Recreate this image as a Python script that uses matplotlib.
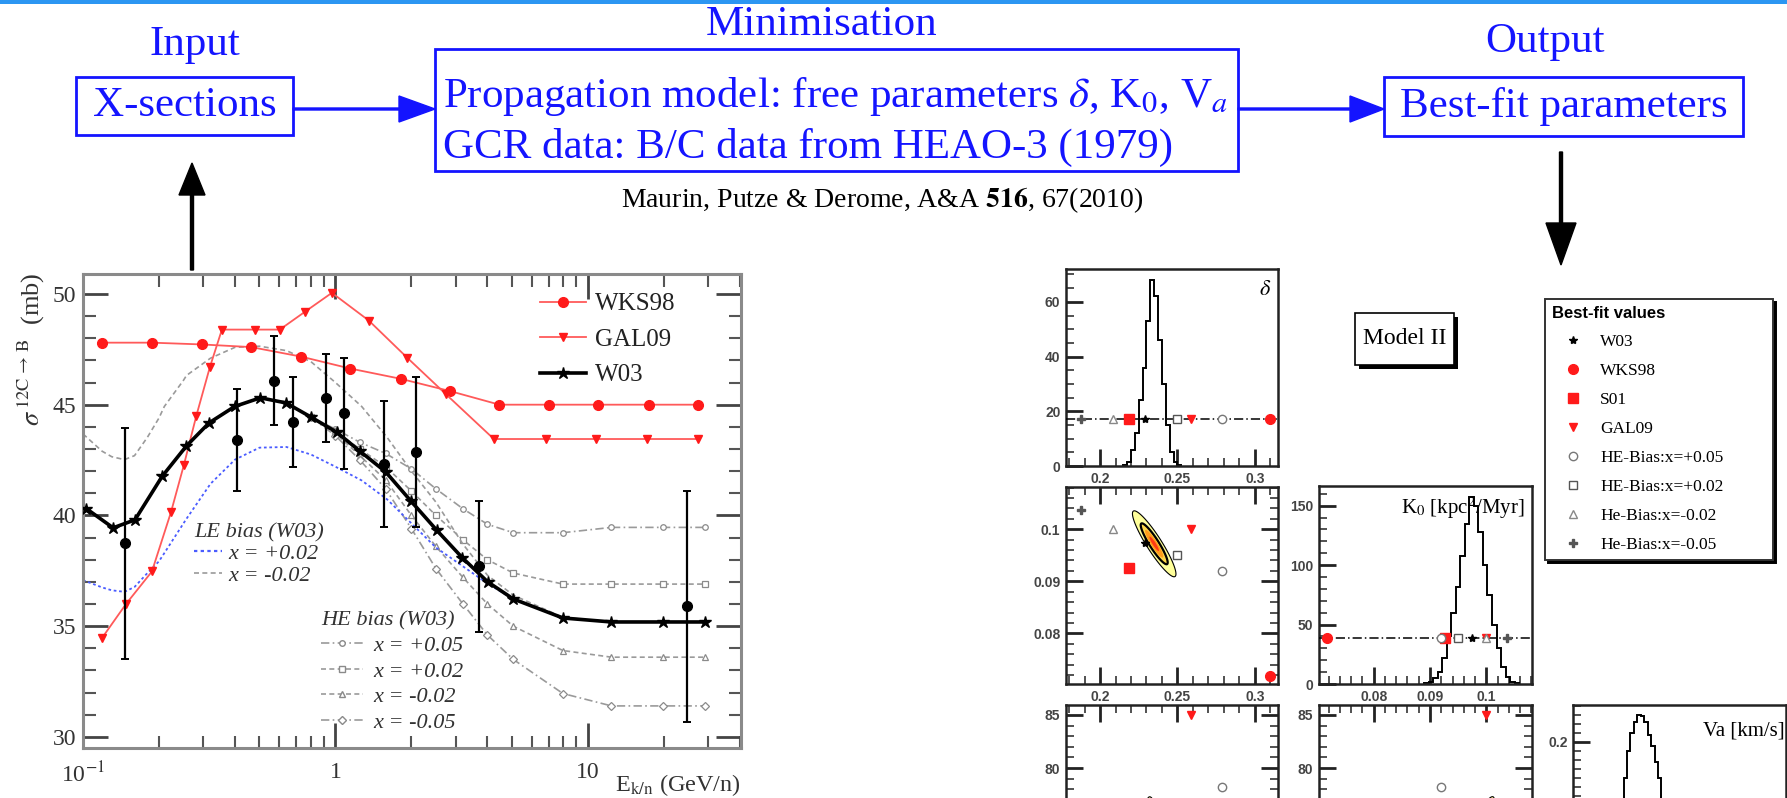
import numpy as np
import matplotlib
matplotlib.use("Agg")
import matplotlib.pyplot as plt
from matplotlib.patches import Rectangle, FancyArrow
from matplotlib.lines import Line2D
from matplotlib.ticker import (FixedLocator, FixedFormatter, MultipleLocator,
                               NullFormatter, FormatStrFormatter)

plt.rcParams['font.family'] = ['Liberation Serif', 'DejaVu Serif']
plt.rcParams['mathtext.fontset'] = 'stix'

# ---------------- cross-section data (sigma 12C -> B, mb) ----------------
wks_e = [0.119, 0.1875, 0.295, 0.464, 0.731, 1.146, 1.81, 2.83, 4.46, 7.02, 11.0, 17.4, 27.4]
wks_sig = [47.8, 47.8, 47.72, 47.6, 47.17, 46.63, 46.17, 45.62, 45.0, 45.0, 45.0, 45.0, 45.0]

gal_e = [0.119, 0.148, 0.1875, 0.223, 0.251, 0.281, 0.318, 0.355, 0.481, 0.602, 0.756,
         0.968, 1.355, 1.92, 2.74, 4.24, 6.8, 10.8, 17.2, 27.4]
gal_sig = [34.47, 36.0, 37.47, 40.14, 42.28, 44.49, 46.69, 48.39, 48.39, 48.39, 49.19,
           50.05, 48.8, 47.13, 45.47, 43.45, 43.45, 43.45, 43.45, 43.45]

w03_e = [0.103, 0.1316, 0.1606, 0.206, 0.257, 0.316, 0.399, 0.504, 0.637, 0.803, 1.01,
         1.25, 1.58, 1.99, 2.52, 3.18, 4.01, 5.06, 7.96, 12.4, 19.8, 29.1]
w03_sig = [40.31, 39.44, 39.80, 41.77, 43.14, 44.18, 44.92, 45.31, 45.08, 44.43, 43.76,
           42.9, 41.97, 40.65, 39.33, 38.09, 37.0, 36.23, 35.37, 35.19, 35.19, 35.19]

meas_e = [0.1466, 0.408, 0.571, 0.676, 0.916, 1.077, 1.56, 2.09, 3.69, 24.7]
meas_sig = [38.74, 43.42, 46.09, 44.22, 45.31, 44.61, 42.33, 42.86, 37.70, 35.89]
meas_err = [5.2, 2.3, 2.0, 2.05, 2.0, 2.5, 2.85, 3.4, 2.95, 5.2]

le_e = [0.1, 0.119, 0.13, 0.146, 0.16, 0.18, 0.2, 0.21, 0.25, 0.257, 0.32, 0.4, 0.5, 0.64,
        0.8, 1.0, 1.27, 1.6, 2.0, 2.5, 3.2, 4.0, 5.06, 7.96, 12.4, 19.8, 29.1]
le_plus02 = [37.08, 36.75, 36.62, 36.55, 36.77, 37.4, 37.93, 38.3, 39.64, 39.85, 41.43,
             42.52, 43.06, 43.09, 42.75, 42.2, 41.58, 40.73, 39.64, 38.55, 37.7, 36.93,
             36.23, 35.37, 35.19, 35.19, 35.19]
le_minus02 = [43.68, 42.9, 42.65, 42.52, 42.7, 43.53, 44.4, 44.92, 46.1, 46.32, 47.1,
              47.59, 47.64, 47.44, 46.94, 46.0, 44.92, 43.53, 42.0, 40.6, 38.7, 37.3,
              36.4, 35.4, 35.19, 35.19, 35.19]

he_e = [0.8, 1.0, 1.25, 1.58, 2.0, 2.5, 3.2, 4.0, 5.06, 7.96, 12.4, 19.8, 29.1]
he_plus05 = [44.43, 43.9, 43.3, 42.8, 42.1, 41.2, 40.3, 39.6, 39.22, 39.22, 39.46, 39.46, 39.46]
he_plus02 = [44.43, 43.8, 43.0, 42.2, 41.1, 40.0, 38.9, 38.0, 37.4, 36.9, 36.9, 36.9, 36.9]
he_minus02 = [44.43, 43.7, 42.7, 41.6, 40.0, 38.6, 37.2, 36.0, 35.0, 33.9, 33.6, 33.6, 33.6]
he_minus05 = [44.43, 43.6, 42.5, 41.2, 39.4, 37.6, 36.0, 34.6, 33.5, 31.96, 31.4, 31.4, 31.4]

# ---------------- best-fit propagation parameters ----------------
fit_names = ['W03', 'WKS98', 'S01', 'GAL09', 'HE-Bias:x=+0.05', 'HE-Bias:x=+0.02',
             'He-Bias:x=-0.02', 'He-Bias:x=-0.05']
fit_delta = [0.229, 0.310, 0.2186, 0.259, 0.279, 0.2495, 0.2082, 0.188]
fit_k0 = [0.0974, 0.0718, 0.0926, 0.100, 0.0919, 0.095, 0.100, 0.1037]
fit_va = [73.2, 70.0, 72.0, 85.0, 78.2, 74.0, 71.0, 70.5]

# posterior histograms
delta_edges = [0.2150, 0.2175, 0.2200, 0.2225, 0.2250, 0.2275, 0.2300, 0.2325, 0.2350,
               0.2375, 0.2400, 0.2425, 0.2450, 0.2475, 0.2500, 0.2525]
delta_counts = [0.5, 1.5, 6, 12, 24, 36, 53, 68, 62, 46, 30, 15, 5, 1.5, 0.5]

k0_edges = [0.0890, 0.0898, 0.0906, 0.0914, 0.0922, 0.0930, 0.0938, 0.0946, 0.0954,
            0.0962, 0.0970, 0.0978, 0.0986, 0.0994, 0.1002, 0.1010, 0.1018, 0.1026,
            0.1034, 0.1042, 0.1050, 0.1058]
k0_counts = [1, 2, 5, 10, 22, 40, 60, 82, 108, 135, 157, 150, 128, 100, 75, 50, 30, 14,
             6, 2, 1]

va_edges = [70.9, 71.2, 71.5, 71.8, 72.1, 72.4, 72.7, 73.0, 73.3, 73.6, 73.9, 74.2, 74.5,
            74.8, 75.1, 75.4, 75.7]
va_counts = [0.09, 0.115, 0.135, 0.16, 0.19, 0.21, 0.222, 0.23, 0.229, 0.222, 0.208,
             0.195, 0.178, 0.16, 0.135, 0.11]

# correlation contours: centre, major and minor half-axes (data units)
dk_centre, dk_major, dk_minor = (0.235, 0.0972), (-0.01345, 0.00628), (0.00409, 0.000775)
dv_centre, dv_major, dv_minor = (0.235, 73.2), (-0.003, 4.1), (0.00514, 0.08)
kv_centre, kv_major, kv_minor = (0.0975, 73.2), (0.0037, 4.1), (0.00127, -0.33)

# ---------------- styles ----------------
BLUE = '#1414ff'
RED = '#ff1a1a'
RED_LINE = '#ff5a5a'

fit_style = [
    dict(marker='*', color='black', ms=6),
    dict(marker='o', color=RED, ms=7),
    dict(marker='s', color=RED, ms=6.5),
    dict(marker='v', color=RED, ms=6),
    dict(marker='o', color='#777777', mfc='white', ms=6, mew=1.0),
    dict(marker='s', color='#555555', mfc='white', ms=6, mew=1.0),
    dict(marker='^', color='#888888', mfc='white', ms=6, mew=1.0),
    dict(marker='P', color='#555555', ms=6),
]

W, H = 1787, 798
fig = plt.figure(figsize=(W / 100, H / 100), dpi=100)


def px_axes(x0, y0, x1, y1, **kw):
    return fig.add_axes([x0 / W, 1 - y1 / H, (x1 - x0) / W, (y1 - y0) / H], **kw)


# ---------------- flow chart layer (pixel coordinates) ----------------
bg = fig.add_axes([0, 0, 1, 1], zorder=0)
bg.set_xlim(0, W)
bg.set_ylim(H, 0)
bg.axis('off')

bg.add_patch(Rectangle((0, 0), W, 4, color='#2c96f2', lw=0))

big = 31
bg.text(195, 45, 'Input', color=BLUE, fontsize=big, ha='center', va='center')
bg.text(822, 25, 'Minimisation', color=BLUE, fontsize=big, ha='center', va='center')
bg.text(1545, 42, 'Output', color=BLUE, fontsize=big, ha='center', va='center')

for (x0, y0, x1, y1) in [(76, 77, 293, 135), (435, 49, 1238, 171), (1384, 77, 1743, 136)]:
    bg.add_patch(Rectangle((x0, y0), x1 - x0, y1 - y0, fill=False, ec=BLUE, lw=2))

bg.text(184.5, 106, 'X-sections', color=BLUE, fontsize=big, ha='center', va='center')
bg.text(443, 97, r'Propagation model: free parameters $\delta$, K$_0$, V$_a$', color=BLUE,
        fontsize=big, ha='left', va='center')
bg.text(443, 147, 'GCR data: B/C data from HEAO-3 (1979)', color=BLUE, fontsize=big,
        ha='left', va='center')
bg.text(1563.5, 106, 'Best-fit parameters', color=BLUE, fontsize=big, ha='center', va='center')
bg.text(882, 200, r'Maurin, Putze & Derome, A&A $\mathbf{516}$, 67(2010)', color='black',
        fontsize=20, ha='center', va='center')

bg.add_patch(FancyArrow(293, 109, 142, 0, width=2, head_width=26, head_length=36,
                        length_includes_head=True, color=BLUE))
bg.add_patch(FancyArrow(1238, 109, 146, 0, width=2, head_width=26, head_length=34,
                        length_includes_head=True, color=BLUE))
bg.add_patch(FancyArrow(192, 270, 0, -107, width=3, head_width=26, head_length=32,
                        length_includes_head=True, color='black'))
bg.add_patch(FancyArrow(1561, 152, 0, 113, width=3, head_width=30, head_length=42,
                        length_includes_head=True, color='black'))

# Model II tag
bg.add_patch(Rectangle((1359, 317), 99, 52, color='black', lw=0))
bg.add_patch(Rectangle((1355, 313), 99, 52, fc='white', ec='black', lw=1.2))
bg.text(1404.5, 339, 'Model II', fontsize=17, ha='center', va='center')

# ---------------- cross-section panel ----------------
ax = px_axes(83, 274, 741, 748)
ax.set_xscale('log')
ax.set_xlim(0.1, 40.4)
ax.set_ylim(29.5, 50.9)
for s in ax.spines.values():
    s.set_color('#8a8a8a')
    s.set_linewidth(2.2)

ax.xaxis.set_major_locator(FixedLocator([0.1, 1, 10]))
ax.xaxis.set_major_formatter(FixedFormatter(['10$^{-1}$', '1', '10']))
ax.xaxis.set_minor_locator(FixedLocator([m * 10.0 ** k for k in (-1, 0, 1) for m in range(2, 10)]))
ax.xaxis.set_minor_formatter(NullFormatter())
ax.yaxis.set_major_locator(MultipleLocator(5))
ax.yaxis.set_minor_locator(MultipleLocator(1))
ax.tick_params(which='major', direction='in', length=18, width=2, color='#444444',
               top=True, right=True, labelsize=17, labelcolor='#333333', pad=5)
ax.tick_params(which='minor', direction='in', length=9, width=1.5, color='#555555',
               top=True, right=True)
ax.tick_params(axis='x', which='major', pad=10)

for curve, style in [(he_plus05, dict(marker='o', ls=(0, (5, 2, 1, 2)))),
                     (he_plus02, dict(marker='s', ls=(0, (3, 2)))),
                     (he_minus02, dict(marker='^', ls=(0, (3, 2)))),
                     (he_minus05, dict(marker='D', ls=(0, (5, 2, 1, 2))))]:
    ax.plot(he_e, curve, color='#9a9a9a', lw=1.2, ms=4, mfc='white', mec='#8a8a8a',
            mew=0.9, zorder=2, **style)

ax.plot(le_e, le_plus02, color='#4a5cff', lw=1.3, ls=(0, (1.5, 1.5)), zorder=2)
ax.plot(le_e, le_minus02, color='#9a9a9a', lw=1.2, ls=(0, (3, 2)), zorder=2)

ax.plot(w03_e, w03_sig, color='black', lw=2.6, marker='*', ms=9, zorder=4)
ax.plot(wks_e, wks_sig, color=RED_LINE, lw=1.3, marker='o', ms=7, mfc=RED, mec=RED, zorder=3)
ax.plot(gal_e, gal_sig, color=RED_LINE, lw=1.3, marker='v', ms=6, mfc=RED, mec=RED, zorder=3)
ax.errorbar(meas_e, meas_sig, yerr=meas_err, fmt='o', color='black', ms=7, elinewidth=1.6,
            capsize=3, capthick=1.4, zorder=5)

ax.text(-0.079, 1.004,
        r'$\sigma^{\,\mathrm{12C}\,\rightarrow\,\mathrm{B}}$  (mb)',
        transform=ax.transAxes, rotation=90, ha='center', va='top', fontsize=19,
        color='#333333')
ax.text(1.0, -0.078, r'E$_{\mathrm{k/n}}$ (GeV/n)', transform=ax.transAxes, ha='right',
        va='center', fontsize=17.5, color='#333333')

h_wks = Line2D([], [], color=RED_LINE, lw=1.3, marker='o', ms=7, mfc=RED, mec=RED)
h_gal = Line2D([], [], color=RED_LINE, lw=1.3, marker='v', ms=6, mfc=RED, mec=RED)
h_w03 = Line2D([], [], color='black', lw=2.6, marker='*', ms=9)
leg1 = ax.legend([h_wks, h_gal, h_w03], ['WKS98', 'GAL09', 'W03'], loc='upper left',
                 bbox_to_anchor=(0.6945, 0.960), frameon=False, fontsize=18,
                 handlelength=1.84, handletextpad=0.36, labelspacing=0.52, borderpad=0,
                 borderaxespad=0)
for t in leg1.get_texts():
    t.set_color('#222222')
ax.add_artist(leg1)

ital = dict(style='italic', size=16)
h_le1 = Line2D([], [], color='#4a5cff', lw=1.6, ls=(0, (1.5, 1.5)))
h_le2 = Line2D([], [], color='#9a9a9a', lw=1.2, ls=(0, (3, 2)))
leg2 = ax.legend([h_le1, h_le2], ['x = +0.02', 'x = -0.02'], loc='upper left',
                 bbox_to_anchor=(0.169, 0.474), frameon=False, prop=ital,
                 title='LE bias (W03)', title_fontproperties=ital, alignment='left',
                 handlelength=1.26, handletextpad=0.27, labelspacing=0.05, borderpad=0,
                 borderaxespad=0)
for t in leg2.get_texts() + [leg2.get_title()]:
    t.set_color('#333333')
ax.add_artist(leg2)

h_he = [Line2D([], [], color='#9a9a9a', lw=1.2, marker=m, ms=4, mfc='white', mec='#8a8a8a',
               ls=ls)
        for m, ls in [('o', (0, (5, 2, 1, 2))), ('s', (0, (3, 2))), ('^', (0, (3, 2))),
                      ('D', (0, (5, 2, 1, 2)))]]
leg3 = ax.legend(h_he, ['x = +0.05', 'x = +0.02', 'x = -0.02', 'x = -0.05'], loc='upper left',
                 bbox_to_anchor=(0.362, 0.289), frameon=False, prop=ital,
                 title='HE bias (W03)', title_fontproperties=ital, alignment='left',
                 handlelength=1.9, handletextpad=0.45, labelspacing=0.23, borderpad=0,
                 borderaxespad=0)
for t in leg3.get_texts() + [leg3.get_title()]:
    t.set_color('#333333')

# ---------------- parameter posterior panels ----------------
D_LIM = (0.178, 0.315)
K_LIM = (0.0703, 0.1081)
V_LIM = (67.4, 85.94)


def root_axes(box, xlim, ylim, xmaj, xmin, ymaj, ymin, mirror, xlabels=True):
    a = px_axes(*box)
    a.set_xlim(*xlim)
    a.set_ylim(*ylim)
    for s in a.spines.values():
        s.set_linewidth(1.8)
        s.set_color('#222222')
    a.xaxis.set_major_locator(MultipleLocator(xmaj))
    a.xaxis.set_minor_locator(MultipleLocator(xmin))
    a.yaxis.set_major_locator(ymaj if not isinstance(ymaj, (int, float)) else MultipleLocator(ymaj))
    a.yaxis.set_minor_locator(MultipleLocator(ymin))
    a.xaxis.set_major_formatter(FormatStrFormatter('%g'))
    a.yaxis.set_major_formatter(FormatStrFormatter('%g'))
    a.tick_params(which='major', direction='in', length=12, width=2, color='#222222',
                  top=mirror, right=mirror, labelsize=10, labelcolor='#444444', pad=4,
                  labelbottom=xlabels)
    a.tick_params(which='minor', direction='in', length=6, width=1.2, color='#333333',
                  top=mirror, right=mirror)
    for lbl in a.get_xticklabels() + a.get_yticklabels():
        lbl.set_fontfamily('Liberation Sans')
        lbl.set_fontweight('bold')
    return a


def draw_contours(a, centre, major, minor):
    t = np.linspace(0, 2 * np.pi, 200)
    for scale, fc, ec, lw in [(1.0, '#ffff9a', 'black', 0.8), (0.62, '#ffd84a', 'black', 1.6),
                              (0.42, '#ff9c1c', 'none', 0), (0.22, '#ff3a14', 'none', 0)]:
        xs = centre[0] + scale * (np.cos(t) * major[0] + np.sin(t) * minor[0])
        ys = centre[1] + scale * (np.cos(t) * major[1] + np.sin(t) * minor[1])
        a.fill(xs, ys, fc=fc, ec=ec, lw=lw, zorder=2)


def draw_fits(a, xs, ys):
    for x, y, st in zip(xs, ys, fit_style):
        a.plot([x], [y], ls='none', zorder=4, clip_on=True, **st)


row_line = dict(color='black', lw=1.1, ls=(0, (6, 2, 1, 2)), zorder=3)

# delta posterior
a_d = root_axes((1066, 269, 1278, 466), D_LIM, (0, 72), 0.05, 0.01, 20, 5, False)
a_d.stairs(delta_counts, delta_edges, color='black', lw=1.4, zorder=2)
a_d.axhline(17, **row_line)
draw_fits(a_d, fit_delta, [17] * len(fit_delta))
a_d.text(0.94, 0.89, r'$\delta$', transform=a_d.transAxes, ha='center', va='center',
         fontsize=16)

# delta vs K0
a_dk = root_axes((1066, 487, 1278, 684), D_LIM, K_LIM, 0.05, 0.01, 0.01, 0.002, True)
draw_contours(a_dk, dk_centre, dk_major, dk_minor)
draw_fits(a_dk, fit_delta, fit_k0)

# K0 posterior
a_k = root_axes((1319, 486, 1532, 684), K_LIM, (0, 166.6), 0.01, 0.002, 50, 10, False)
a_k.stairs(k0_counts, k0_edges, color='black', lw=1.4, zorder=2)
a_k.axhline(39, **row_line)
draw_fits(a_k, fit_k0, [39] * len(fit_k0))
a_k.text(0.967, 0.89, r'K$_0$ [kpc$^2$/Myr]', transform=a_k.transAxes, ha='right',
         va='center', fontsize=15)

# delta vs Va (lower part lies below the page edge)
a_dv = root_axes((1066, 705, 1278, 902), D_LIM, V_LIM, 0.05, 0.01, FixedLocator([80, 85]),
                 1, True, xlabels=False)
draw_contours(a_dv, dv_centre, dv_major, dv_minor)
draw_fits(a_dv, fit_delta, fit_va)

# K0 vs Va
a_kv = root_axes((1319, 705, 1532, 902), K_LIM, V_LIM, 0.01, 0.002, FixedLocator([80, 85]),
                 1, True, xlabels=False)
draw_contours(a_kv, kv_centre, kv_major, kv_minor)
draw_fits(a_kv, fit_k0, fit_va)

# Va posterior
a_v = root_axes((1573, 705, 1786, 902), V_LIM, (0.022, 0.241), 5, 1, FixedLocator([0.2]),
                0.01, False, xlabels=False)
a_v.stairs(va_counts, va_edges, color='black', lw=1.4, zorder=2)
a_v.text(0.995, 0.87, 'Va [km/s]', transform=a_v.transAxes, ha='right', va='center',
         fontsize=15)

# best-fit legend
fit_handles = [Line2D([], [], ls='none', **st) for st in fit_style]
leg4 = fig.legend(fit_handles, fit_names, loc='upper left',
                  bbox_to_anchor=(1545 / W, 1 - 299 / H - 0.01, (1773 - 1545) / W, 0.01),
                  mode='expand', fontsize=12.5, title='Best-fit values',
                  title_fontproperties=dict(family='Liberation Sans', weight='bold', size=12),
                  alignment='left', handlelength=2.45, handletextpad=0.33,
                  labelspacing=0.74, borderpad=0.4, borderaxespad=0, fancybox=False,
                  framealpha=1, edgecolor='#333333',
                  shadow={'color': 'black', 'alpha': 1})
leg4.get_frame().set_linewidth(1.4)

fig.savefig('out.png', dpi=100)
